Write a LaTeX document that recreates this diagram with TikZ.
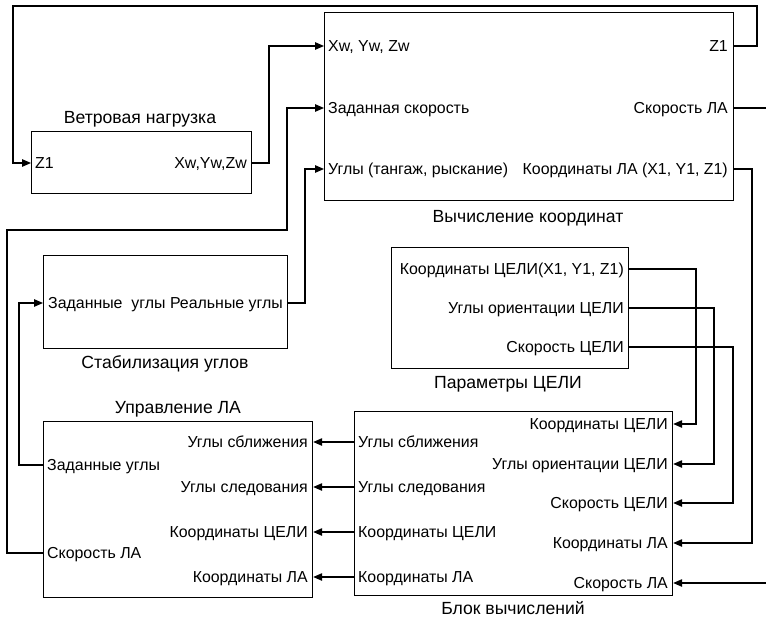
\documentclass[tikz,border=0pt]{standalone}
\usepackage{fontspec}
\setmainfont{Liberation Sans}
\usetikzlibrary{arrows.meta}
\begin{document}
\begin{tikzpicture}[x=1pt,y=-1pt,
  box/.style={draw, line width=1.2pt, inner sep=0pt, anchor=north west},
  ttl/.style={inner sep=0pt, text height=12.6pt, text depth=0pt, font=\fontsize{17.6}{20}\selectfont},
  port/.style={inner sep=0pt, text height=11.4pt, text depth=0pt, font=\fontsize{15.9}{18}\selectfont},
  lp/.style={port, anchor=west},
  rp/.style={port, anchor=east},
  wire/.style={line width=1.2pt},
  arr/.style={wire, -{Triangle[length=9pt,width=7.5pt]}}]
\useasboundingbox (0,0) rectangle (766,621);

% boxes
\node[box, minimum width=409pt, minimum height=188pt] (vk) at (324,12) {};
\node[box, minimum width=220pt, minimum height=62pt] (vn) at (31,131) {};
\node[box, minimum width=244pt, minimum height=93pt] (st) at (43,255) {};
\node[box, minimum width=237pt, minimum height=121pt] (pc) at (391,247) {};
\node[box, minimum width=269pt, minimum height=176pt] (ul) at (43,421) {};
\node[box, minimum width=318pt, minimum height=184pt] (bv) at (354,411) {};

% titles
\node[ttl] (vkt) at (528,216) {Вычисление координат};
\node[ttl] (vnt) at (140,117) {Ветровая нагрузка};
\node[ttl] (stt) at (165,362) {Стабилизация углов};
\node[ttl] (pct) at (508,382) {Параметры ЦЕЛИ};
\node[ttl] (ult) at (178,407) {Управление ЛА};
\node[ttl] (bvt) at (513,608) {Блок вычислений};

% ports: Вычисление координат
\node[lp] (vkX) at (328,46) {Xw, Yw, Zw};
\node[lp] (vkV) at (328,108) {Заданная скорость};
\node[lp] (vkA) at (328,169) {Углы (тангаж, рыскание)};
\node[rp] (vkZ) at (728,46) {Z1};
\node[rp] (vkS) at (728,108) {Скорость ЛА};
\node[rp] (vkK) at (728,169) {Координаты ЛА (X1, Y1, Z1)};

% ports: Ветровая нагрузка
\node[lp] (vnZ) at (35,163) {Z1};
\node[rp] (vnX) at (247,163) {Xw,Yw,Zw};

% ports: Стабилизация углов
\node[lp] (stZ) at (48,303) {Заданные\ \ углы};
\node[rp] (stR) at (283,303) {Реальные углы};

% ports: Параметры ЦЕЛИ
\node[rp] (pc1) at (624,269) {Координаты ЦЕЛИ(X1, Y1, Z1)};
\node[rp] (pc2) at (624,308) {Углы ориентации ЦЕЛИ};
\node[rp] (pc3) at (624,347) {Скорость ЦЕЛИ};

% ports: Управление ЛА
\node[rp] (ul1) at (308,442) {Углы сближения};
\node[rp] (ul2) at (308,487) {Углы следования};
\node[rp] (ul3) at (308,532) {Координаты ЦЕЛИ};
\node[rp] (ul4) at (308,577) {Координаты ЛА};
\node[lp] (ulZ) at (47,465) {Заданные углы};
\node[lp] (ulV) at (47,553) {Скорость ЛА};

% ports: Блок вычислений
\node[lp] (bv1) at (358,442) {Углы сближения};
\node[lp] (bv2) at (358,487) {Углы следования};
\node[lp] (bv3) at (358,532) {Координаты ЦЕЛИ};
\node[lp] (bv4) at (358,577) {Координаты ЛА};
\node[rp] (bvC) at (668,424) {Координаты ЦЕЛИ};
\node[rp] (bvO) at (668,464) {Углы ориентации ЦЕЛИ};
\node[rp] (bvP) at (668,503) {Скорость ЦЕЛИ};
\node[rp] (bvK) at (668,543) {Координаты ЛА};
\node[rp] (bvS) at (668,583) {Скорость ЛА};

% free ends at the right edge
\coordinate (edgeA) at (766,108);
\coordinate (edgeB) at (766,583);

% connectors
\draw[arr] (vk.east |- vkZ) -- (757,46) |- (13,6) |- (vn.west |- vnZ);
\draw[arr] (vn.east |- vnX) -- (269,163) |- (vk.west |- vkX);
\draw[arr] (ul.west |- ulV) -- (7,553) |- (287,230) |- (vk.west |- vkV);
\draw[arr] (st.east |- stR) -- (305,303) |- (vk.west |- vkA);
\draw[arr] (ul.west |- ulZ) -- (19,465) |- (st.west |- stZ);

\draw[arr] (bv.west |- bv1) -- (ul.east |- ul1);
\draw[arr] (bv.west |- bv2) -- (ul.east |- ul2);
\draw[arr] (bv.west |- bv3) -- (ul.east |- ul3);
\draw[arr] (bv.west |- bv4) -- (ul.east |- ul4);

\draw[arr] (pc.east |- pc1) -- (696,269) |- (bv.east |- bvC);
\draw[arr] (pc.east |- pc2) -- (714,308) |- (bv.east |- bvO);
\draw[arr] (pc.east |- pc3) -- (733,347) |- (bv.east |- bvP);
\draw[arr] (vk.east |- vkK) -- (752,169) |- (bv.east |- bvK);

\draw[wire] (vk.east |- vkS) -- (edgeA);
\draw[arr] (edgeB) -- (bv.east |- bvS);
\end{tikzpicture}
\end{document}
